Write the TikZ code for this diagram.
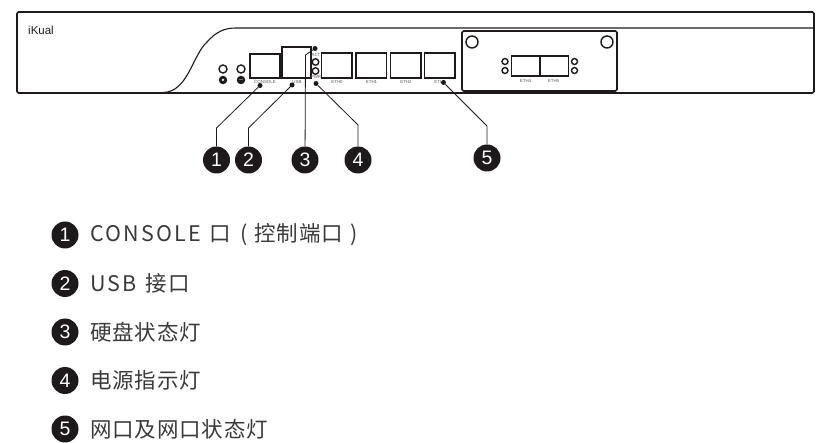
\documentclass[tikz,border=0pt]{standalone}
\usepackage{fontspec}
\setmainfont{Liberation Sans}
\newfontfamily\cjk[LetterSpace=4]{Noto Sans CJK SC}
\newfontfamily\cjklatin[LetterSpace=10]{Noto Sans CJK SC}
\definecolor{ink}{HTML}{1E1A1B}
\definecolor{legendtext}{HTML}{3A3A3C}
\tikzset{
  x=1pt,y=-1pt,
  panel/.style={draw=ink,line width=1.7pt,line join=round},
  port/.style={draw=ink,line width=1.5pt,fill=white,minimum width=#1,minimum height=0pt,inner sep=0pt,outer sep=0pt},
  ring/.style={circle,draw=ink,line width=1.4pt,fill=white,inner sep=0pt,minimum size=#1},
  solid dot/.style={circle,fill=ink,inner sep=0pt,minimum size=#1},
  tiny/.style={font=\fontsize{4.4}{5}\selectfont,text=black!65,inner sep=0pt},
  badge/.style={circle,fill=ink,text=white,inner sep=0pt,minimum size=27pt,font=\fontsize{19.5}{22}\selectfont},
  lead/.style={draw=ink,line width=0.8pt},
  legend/.style={anchor=west,text=legendtext,inner sep=0pt,font=\fontsize{21.5}{24}\selectfont\cjk}
}
\begin{document}
\begin{tikzpicture}
\useasboundingbox (0,0) rectangle (819,443);
% chassis
\draw[panel,rounded corners=1.5pt] (17,12) -- (814,12) -- (814,93) -- (17,93) -- cycle;
\draw[draw=ink,line width=1.1pt] (163,92.5) .. controls (188,92) and (192,56) .. (207,42) .. controls (216,32) and (224,28) .. (236,28) -- (814,28);
\node[anchor=west,inner sep=0pt,font=\fontsize{11.5}{13}\selectfont,text=ink] (logo) at (28,30.5) {iKual};
% left buttons
\node[ring=8pt] (b1) at (223,69) {};
\node[ring=8pt] (b2) at (241,69) {};
\node[solid dot=8.5pt] (b3) at (223,80) {};
\node[solid dot=8.5pt] (b4) at (241,80) {};
\node[circle,fill=white,inner sep=0pt,minimum size=2.5pt] (b5) at (223,80) {};
\node[rectangle,fill=black!55,inner sep=0pt,minimum width=4pt,minimum height=1pt] (b6) at (241,80) {};
% ports
\node[port=30pt,minimum height=24pt,anchor=north west] (console) at (250,54) {};
\node[port=29pt,minimum height=31pt,anchor=north west] (usb) at (282,47) {};
\node[port=30.5pt,minimum height=25pt,anchor=north west] (eth0) at (321.5,53) {};
\node[port=30.5pt,minimum height=25pt,anchor=north west] (eth1) at (356,53) {};
\node[port=30.5pt,minimum height=25pt,anchor=north west] (eth2) at (390.5,53) {};
\node[port=30.5pt,minimum height=25pt,anchor=north west] (eth3) at (424.5,53) {};
\node[ring=6.5pt] (act) at (315.5,62) {};
\node[ring=6.5pt] (pwr) at (315.5,71) {};
\node[tiny] (lact) at (316,55) {ACT};
\node[tiny] (lpwr) at (316,77) {PWR};
\node[tiny] (lcon) at (265,81.5) {CONSOLE};
\node[tiny] (lusb) at (297,81.5) {USB};
\node[tiny] (l0) at (337,81.5) {ETH0};
\node[tiny] (l1) at (371.5,81.5) {ETH1};
\node[tiny] (l2) at (406,81.5) {ETH2};
\node[tiny] (l3) at (440,81.5) {ETH3};
% module
\draw[panel,rounded corners=1.5pt,fill=white] (462,31) rectangle (617,91);
\node[ring=12pt] (s1) at (472,42) {};
\node[ring=12pt] (s2) at (607,42) {};
\node[port=28.5pt,minimum height=20pt,anchor=north west] (eth4) at (511.5,56) {};
\node[port=28.5pt,minimum height=20pt,anchor=north west] (eth5) at (540,56) {};
\node[ring=6pt] (m1) at (505,61.5) {};
\node[ring=6pt] (m2) at (505,70.5) {};
\node[ring=6pt] (m3) at (574.5,61.5) {};
\node[ring=6pt] (m4) at (574.5,70.5) {};
\node[tiny] (l4) at (525.5,81) {ETH4};
\node[tiny] (l5) at (553.5,81) {ETH5};
% callouts
\node[solid dot=5pt] (d1) at (260,85.5) {};
\node[solid dot=5pt] (d2) at (292,85) {};
\node[solid dot=5pt] (d3) at (315,48.5) {};
\node[solid dot=5pt] (d4) at (316,83.5) {};
\node[solid dot=5pt] (d5) at (443.5,82.5) {};
\node[badge] (n1) at (216.5,160) {1};
\node[badge] (n2) at (248.5,160) {2};
\node[badge] (n3) at (305,160) {3};
\node[badge] (n4) at (358,160) {4};
\node[badge] (n5) at (487,158) {5};
\coordinate (k1) at (216.5,128);
\coordinate (k2) at (248.5,128);
\coordinate (k3) at (305.5,55);
\coordinate (k4) at (358,125);
\coordinate (k5) at (487,126);
\draw[lead] (d1) -- (k1) -- (n1);
\draw[lead] (d2) -- (k2) -- (n2);
\draw[lead] (d3) -- (k3) -- (n3);
\draw[lead] (d4) -- (k4) -- (n4);
\draw[lead] (d5) -- (k5) -- (n5);
% legend
\node[badge] (g1) at (65,235) {1};
\node[badge] (g2) at (65,283.5) {2};
\node[badge] (g3) at (65,332) {3};
\node[badge] (g4) at (65,380.5) {4};
\node[badge] (g5) at (65,429) {5};
\node[legend] (t1) at (90,235) {{\cjklatin CONSOLE}\hspace{9pt}口\hspace{9pt}(\hspace{7pt}控制端口\hspace{7pt})};
\node[legend] (t2) at (90,283.5) {{\cjklatin USB}\hspace{9pt}接口};
\node[legend] (t3) at (90,332) {硬盘状态灯};
\node[legend] (t4) at (90,380.5) {电源指示灯};
\node[legend] (t5) at (90,429) {网口及网口状态灯};
\end{tikzpicture}
\end{document}
